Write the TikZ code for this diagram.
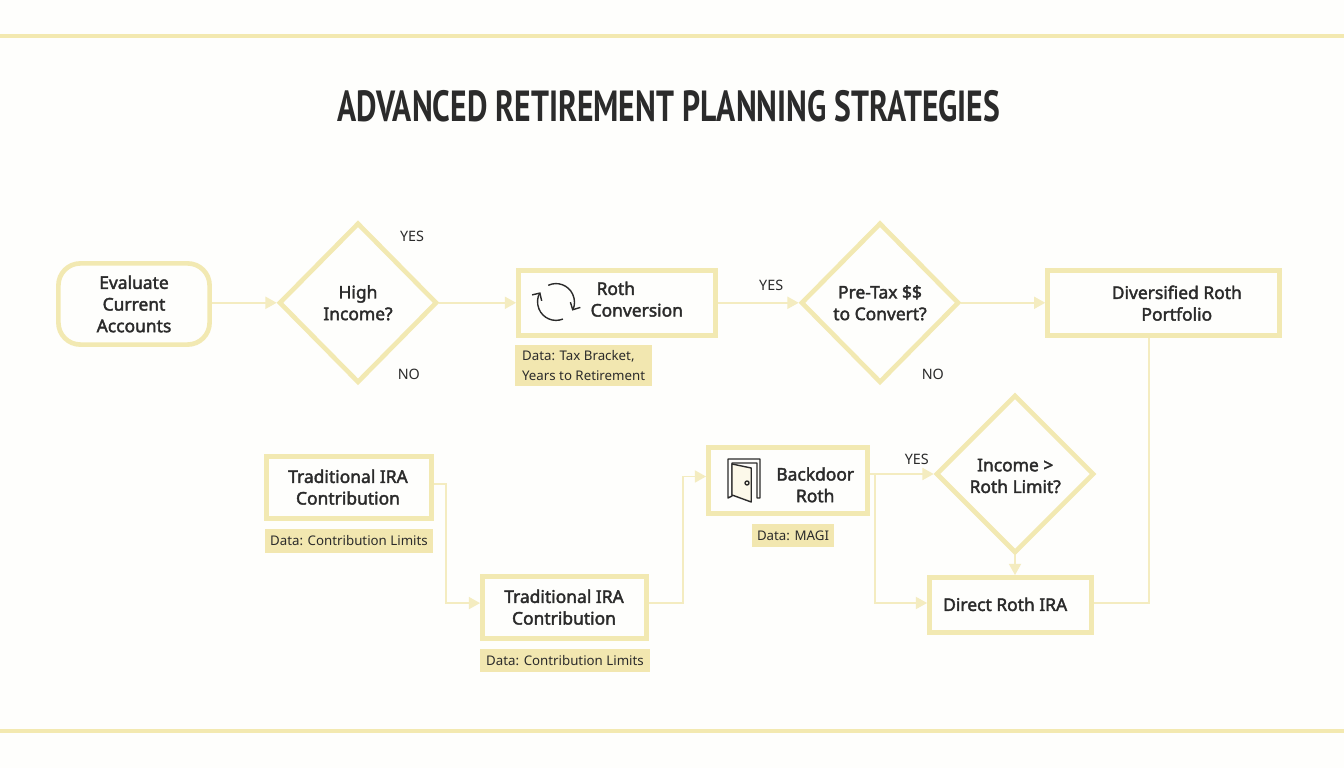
\documentclass[tikz,border=0pt]{standalone}
\usepackage{fontspec}
\usepackage{xcolor}
\usetikzlibrary{arrows.meta,shapes.geometric}
\setmainfont{Noto Sans}
\newfontfamily\titlefont[FakeStretch=0.726]{PT Sans Bold}
\newfontfamily\boxfont[FakeBold=2.2]{Noto Sans}
\definecolor{pagebg}{HTML}{FEFEFC}
\definecolor{lineyellow}{HTML}{F3E9B0}
\definecolor{framey}{HTML}{F2E9B2}
\definecolor{flowy}{HTML}{F4ECC0}
\definecolor{tagfill}{HTML}{F2E7B0}
\definecolor{doorfill}{HTML}{FCF9EA}
\definecolor{inkdark}{HTML}{2B2B2B}
\tikzset{
    boxtext/.style={font=\boxfont\fontsize{12.4}{15.4}\selectfont, text=inkdark, align=center},
    plainbox/.style={draw=framey, line width=3.3pt, minimum width=#1, inner sep=0pt},
    choice/.style={draw=framey, line width=3.3pt, shape=diamond, aspect=1, inner sep=0pt, boxtext},
    datatag/.style={fill=tagfill, inner sep=0pt, text=inkdark, align=left, font=\fontsize{9.45}{14.6}\selectfont},
    answer/.style={text=inkdark, inner sep=0pt, font=\fontsize{10.2}{12}\selectfont},
    flow/.style={draw=flowy, line width=1.4pt, -{Triangle[length=8pt,width=8.5pt]}},
    flowend/.style={draw=flowy, line width=1.4pt},
    icon/.style={draw=inkdark, line width=1pt, line join=round}
}
\begin{document}
\begin{tikzpicture}
    \useasboundingbox (0,0) rectangle (33.6,19.2);
    \fill[pagebg] (0,0) rectangle (33.6,19.2);
    \draw[lineyellow, line width=3pt] (0,18.3) -- (33.6,18.3);
    \draw[lineyellow, line width=3pt] (0,0.925) -- (33.6,0.925);
    \node[text=inkdark, font=\titlefont\fontsize{31}{36}\selectfont] (title) at (16.72,16.55) {ADVANCED RETIREMENT PLANNING STRATEGIES};

    % top row
    \node[plainbox=3.78cm, minimum height=2.03cm, rounded corners=0.55cm, boxtext] (evaluate) at (3.35,11.6) {Evaluate\\Current\\Accounts};
    \node[choice, minimum width=3.95cm, minimum height=4cm] (high) at (8.95,11.63) {High\\Income?};
    \node[plainbox=4.93cm, minimum height=1.63cm] (roth) at (15.425,11.63) {};
    \node[boxtext] (rothtext) at (15.92,11.72) {Roth\hspace*{1.05cm}\\Conversion};
    \node[choice, minimum width=3.95cm, minimum height=4cm] (pretax) at (22,11.63) {Pre-Tax \$\$\\to Convert?};
    \node[plainbox=5.8cm, minimum height=1.63cm] (diversified) at (29.09,11.63) {};
    \node[boxtext] (diversifiedtext) at (29.42,11.62) {Diversified Roth\\Portfolio};
    \node[datatag, minimum width=3.425cm, minimum height=1.025cm] (rothdata) at (14.59,10.06) {Data: Tax Bracket,\\Years to Retirement};

    % bottom row
    \node[plainbox=4.13cm, minimum height=1.55cm] (tradone) at (8.725,7.0125) {};
    \node[boxtext] (tradonetext) at (8.7,7.02) {Traditional IRA\\Contribution};
    \node[datatag, minimum width=4.2cm, minimum height=0.6cm, align=center] (tradonedata) at (8.725,5.675) {Data: Contribution Limits};
    \node[plainbox=4.1cm, minimum height=1.55cm] (tradtwo) at (14.11,4.0125) {};
    \node[boxtext] (tradtwotext) at (14.1,4.02) {Traditional IRA\\Contribution};
    \node[datatag, minimum width=4.25cm, minimum height=0.575cm, align=center] (tradtwodata) at (14.125,2.69) {Data: Contribution Limits};
    \node[plainbox=3.98cm, minimum height=1.65cm] (backdoor) at (19.7,7.1875) {};
    \node[boxtext] (backdoortext) at (20.38,7.08) {Backdoor\\Roth};
    \node[datatag, minimum width=2.05cm, minimum height=0.575cm, align=center] (backdoordata) at (19.825,5.8125) {Data: MAGI};
    \node[choice, minimum width=3.95cm, minimum height=3.95cm] (limit) at (25.375,7.35) {};
    \node[boxtext] (limittext) at (25.38,7.3) {Income >\\Roth Limit?};
    \node[plainbox=4.05cm, minimum height=1.38cm] (direct) at (25.26,4.075) {};
    \node[boxtext] (directtext) at (25.13,4.09) {Direct Roth IRA};

    % answers
    \node[answer] (highyes) at (10.3,13.3) {YES};
    \node[answer] (highno) at (10.22,9.85) {NO};
    \node[answer] (pretaxyes) at (19.28,12.07) {YES};
    \node[answer] (pretaxno) at (23.32,9.85) {NO};
    \node[answer] (limityes) at (22.92,7.72) {YES};

    % connectors
    \draw[flow] (evaluate.east |- high.west) -- (high.west);
    \draw[flow] (high.east) -- (roth.west);
    \draw[flow] (roth.east) -- (pretax.west);
    \draw[flow] (pretax.east) -- (diversified.west);
    \draw[flow] ([yshift=0.09cm]tradone.east) -- ++(0.3,0) |- ([yshift=0.11cm]tradtwo.west);
    \draw[flow] ([yshift=0.11cm]tradtwo.east) -- ++(0.85,0) |- ([yshift=0.1cm]backdoor.west);
    \draw[flow] (backdoor.east |- limit.west) -- (limit.west);
    \draw[flow] (backdoor.east |- limit.west) -- ++(0.13,0) |- ([yshift=0.05cm]direct.west);
    \draw[flow] (limit.south) -- (limit.south |- direct.north);
    \draw[flowend] ([yshift=0.05cm]direct.east) -| ([xshift=-0.375cm]diversified.south);

    % icons
    \draw[icon, -{Straight Barb[length=4pt,width=8pt]}] (13.9,11.65) ++(115:0.46) arc (115:-28:0.46);
    \draw[icon, -{Straight Barb[length=4pt,width=8pt]}] (13.9,11.65) ++(-68:0.46) arc (-68:-212:0.46);
    \draw[icon] (18.2,6.75) -- (18.2,7.725) -- (19,7.725) -- (19,6.75) -- (18.925,6.75) -- (18.925,7.625) -- (18.3,7.625) -- (18.3,6.8) -- cycle;
    \draw[icon, fill=doorfill] (18.3,7.6) -- (18.78,7.5) -- (18.78,6.65) -- (18.3,6.825) -- cycle;
    \draw[icon] (18.675,7.125) circle (0.05);
\end{tikzpicture}
\end{document}
